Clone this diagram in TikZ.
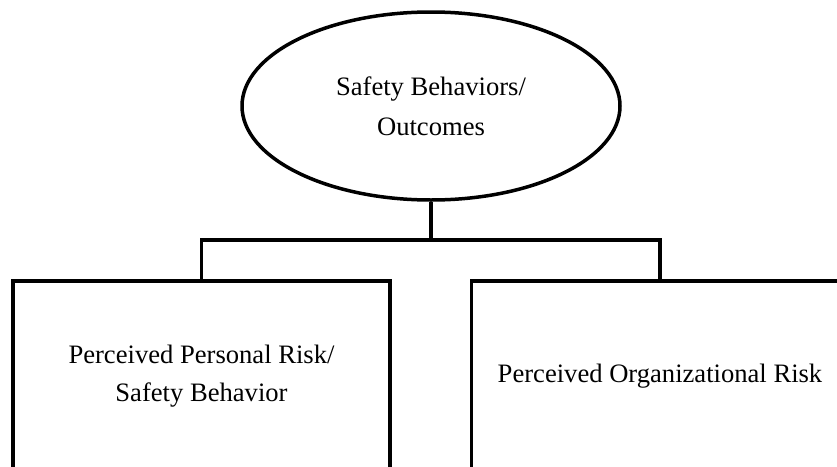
\documentclass[tikz,border=0pt]{standalone}
\usepackage{fontspec}
\setmainfont{Liberation Serif}
\usepackage{tikz}
\usetikzlibrary{positioning,shapes.geometric}

\begin{document}
\begin{tikzpicture}[
  x=1pt, y=-1pt,
  outcome/.style={ellipse, draw, line width=3.5pt, minimum width=378pt, minimum height=188pt, inner sep=0pt, align=center, font=\fontsize{26.6}{40}\selectfont},
  riskbox/.style={rectangle, draw, line width=3.5pt, minimum width=377pt, minimum height=190pt, inner sep=0pt, align=center, font=\fontsize{26.6}{38}\selectfont},
  link/.style={line width=3.5pt}
]
\clip (0,0) rectangle (837,466);

% Top: outcome
\node[outcome] (outcome) at (431,106) {Safety Behaviors/\\Outcomes};

% Bottom: the two risk boxes
\node[riskbox] (personal) at (201.5,376) {Perceived Personal Risk/\\Safety Behavior};
\node[riskbox] (org) at (660,376) {Perceived Organizational Risk};

% Bracket
\coordinate (fork) at (431,240);
\draw[link] (outcome.south) -- (fork);
\draw[link] (personal.north) |- (fork) -| (org.north);

\end{tikzpicture}
\end{document}
